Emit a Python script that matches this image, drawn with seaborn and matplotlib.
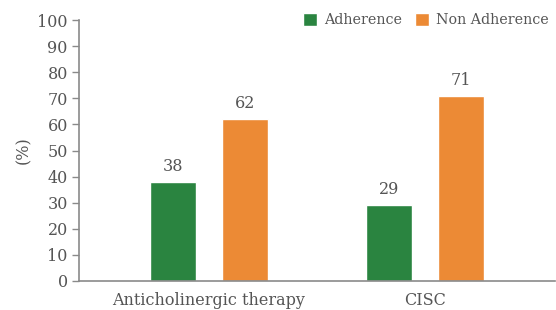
import pandas as pd
import matplotlib as mpl
import matplotlib.pyplot as plt
import seaborn as sns

sns.set_style('white')
mpl.rcParams['font.family'] = 'DejaVu Serif'
mpl.rcParams['ytick.direction'] = 'out'

categories = ['Anticholinergic therapy', 'CISC']
groups = ['Adherence', 'Non Adherence']
adherence = [38, 29]
non_adherence = [62, 71]
yticks = list(range(0, 101, 10))

df = pd.DataFrame({'Category': categories * 2,
                   'Group': [groups[0]] * 2 + [groups[1]] * 2,
                   'Value': adherence + non_adherence})

text_col = '#555555'
axis_col = '#8a8a8a'
palette = {'Adherence': '#2a8440', 'Non Adherence': '#ec8a35'}
fs = 11.5

f = plt.figure(figsize=(5.56, 3.10), dpi=100)
ax = f.add_axes([0.142, 0.094, 0.856, 0.841])
sns.barplot(data=df, x='Category', y='Value', hue='Group', palette=palette,
            width=0.664, gap=0.36, saturation=1, ax=ax)

for cont in ax.containers:
    ax.bar_label(cont, fmt='%d', padding=5, fontsize=fs, color=text_col)

ax.set_xlim(-0.6, 1.6)
ax.set_ylim(0, 100)
ax.set_yticks(yticks)
ax.set_xlabel('')
ax.set_ylabel('(%)', fontsize=fs, color=text_col, labelpad=4)
ax.tick_params(axis='y', length=5, width=1, color=axis_col, labelsize=fs,
               labelcolor=text_col, pad=3, left=True)
ax.tick_params(axis='x', length=0, labelsize=fs, labelcolor=text_col, pad=8)
for s in ['top', 'right']:
    ax.spines[s].set_visible(False)
for s in ['left', 'bottom']:
    ax.spines[s].set_color(axis_col)
    ax.spines[s].set_linewidth(1.2)

ax.legend(loc='upper right', bbox_to_anchor=(1.0, 1.05), ncol=2, frameon=False,
          fontsize=10.3, handlelength=1.0, handleheight=1.0, handletextpad=0.5,
          columnspacing=0.9, labelcolor=text_col, borderaxespad=0)

plt.savefig('out.png', dpi=100)
